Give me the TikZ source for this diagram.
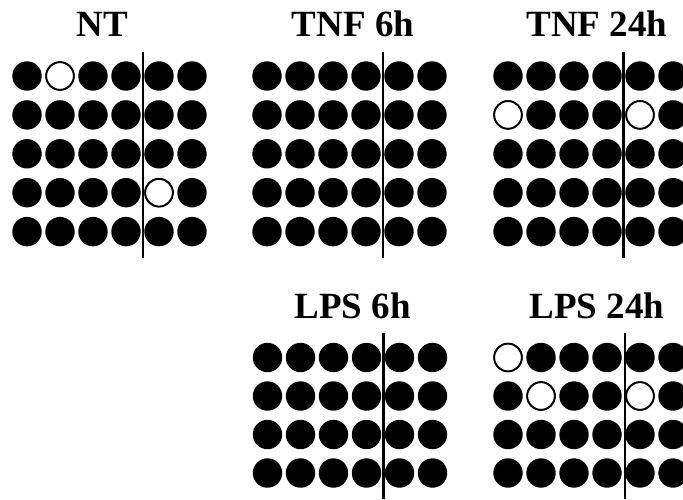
\documentclass[tikz,border=0pt]{standalone}
\usepackage{fontspec}
\setmainfont{Liberation Serif}
\begin{document}
\begin{tikzpicture}[x=1pt,y=-1pt,
  dot/.style={fill=black},
  hollow/.style={draw=black,line width=1.8pt,fill=white},
  divider/.style={line width=2.8pt},
  title/.style={font=\bfseries\fontsize{37}{40}\selectfont,anchor=base,inner sep=0pt}]
\useasboundingbox (0,0) rectangle (683,499);
% top panels (5 rows)
\foreach \xo in {27,267,508}{
  \foreach \c in {0,...,5}{
    \foreach \r in {0,...,4}{
      \fill[dot] (\xo+33*\c, 76+38.9*\r) circle (14.7);
    }
  }
}
% bottom panels (4 rows)
\foreach \xo in {267.5,508}{
  \foreach \c in {0,...,5}{
    \foreach \r in {0,...,3}{
      \fill[dot] (\xo+33*\c, 357.5+38.5*\r) circle (14.7);
    }
  }
}
% open circles
\draw[hollow] (60,76) circle (13.8);
\draw[hollow] (159,192.7) circle (13.8);
\draw[hollow] (508,114.9) circle (13.8);
\draw[hollow] (640,114.9) circle (13.8);
\draw[hollow] (508,357.5) circle (13.8);
\draw[hollow] (541,396) circle (13.8);
\draw[hollow] (640,396) circle (13.8);
% dividers
\coordinate (ntA) at (143,52);  \coordinate (ntB) at (143,258);
\coordinate (t6A) at (383,52);  \coordinate (t6B) at (383,258);
\coordinate (t24A) at (623.5,52); \coordinate (t24B) at (623.5,258);
\coordinate (l6A) at (383.5,333); \coordinate (l6B) at (383.5,499);
\coordinate (l24A) at (625,333); \coordinate (l24B) at (625,499);
\draw[divider] (ntA) -- (ntB);
\draw[divider] (t6A) -- (t6B);
\draw[divider] (t24A) -- (t24B);
\draw[divider] (l6A) -- (l6B);
\draw[divider] (l24A) -- (l24B);
% titles
\node[title] (tNT) at (102.5,36) {NT};
\node[title] (tT6) at (353,36.5) {TNF 6h};
\node[title] (tT24) at (597,36.5) {TNF 24h};
\node[title] (tL6) at (352.5,318) {LPS 6h};
\node[title] (tL24) at (597,318) {LPS 24h};
\end{tikzpicture}
\end{document}
